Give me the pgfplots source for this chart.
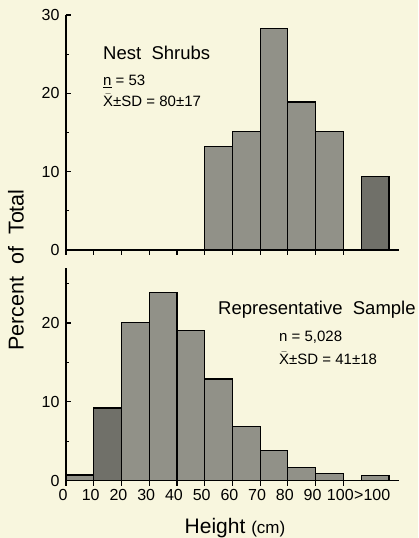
\documentclass[border=0pt]{standalone}
\usepackage{fontspec}
\setmainfont{Liberation Sans}
\usepackage{pgfplots}
\pgfplotsset{compat=1.18}
\definecolor{bg}{RGB}{248,246,222}
\definecolor{barg}{RGB}{145,145,136}
\definecolor{bard}{RGB}{112,112,105}
\pgfplotsset{myax/.style={
  scale only axis, width=332.8pt, xmin=0, xmax=120, ymin=0,
  axis x line=bottom, axis y line=left,
  axis line style={-, line width=1.7pt},
  tick align=inside, major tick length=5pt, minor tick length=3pt,
  every tick/.style={black, line width=1.2pt},
  xtick={0,10,...,100}, xtick style={yshift=-5pt},
  minor ytick={5,15,25},
  ticklabel style={font=\fontsize{16}{19}\selectfont},
  xticklabel style={xshift=-3pt, yshift=-5pt},
  yticklabel style={xshift=-3pt},
  /pgf/number format/assume math mode=true,
  clip=false,
}}
\begin{document}
\begin{tikzpicture}[x=1pt,y=1pt]
\useasboundingbox (0,0) rectangle (418,538);
\fill[bg] (0,0) rectangle (418,538);
\coordinate (topO) at (66,288);
\coordinate (botO) at (66,57.5);
% top panel
\begin{axis}[myax, at={(topO)}, anchor=south west, height=235pt, ymax=30,
  ytick={0,10,20,30}, xticklabels={}]
\addplot[ybar interval, fill=barg, draw=black, line width=1.2pt] coordinates
  {(50,13.2) (60,15.1) (70,28.3) (80,18.9) (90,15.1) (100,15.1)};
\addplot[ybar interval, fill=bard, draw=black, line width=1.2pt] coordinates
  {(106.5,9.4) (116.5,9.4)};
\end{axis}
% bottom panel
\begin{axis}[myax, at={(botO)}, anchor=south west, height=212.5pt, ymax=27,
  ytick={0,10,20},
  extra x ticks={111.5}, extra x tick labels={>100},
  extra x tick style={tick style={draw=none}}]
\addplot[ybar interval, fill=barg, draw=black, line width=1.2pt] coordinates
  {(0,0.7) (10,9.2) (20,20.1) (30,23.9) (40,19.1) (50,12.9) (60,6.9) (70,3.8) (80,1.7) (90,0.9) (100,0.9)};
\addplot[ybar interval, fill=bard, draw=black, line width=1.2pt] coordinates
  {(10,9.2) (20,9.2)};
\addplot[ybar interval, fill=barg, draw=black, line width=1.2pt] coordinates
  {(106.5,0.6) (116.5,0.6)};
\end{axis}
% texts
\node[anchor=base west, inner sep=0pt, font=\fontsize{18.5}{22}\selectfont] at (103,478) {Nest\ \ Shrubs};
\node[anchor=base west, inner sep=0pt, font=\fontsize{15}{18}\selectfont] at (103,452) {\underline{n} = 53};
\node[anchor=base west, inner sep=0pt, font=\fontsize{15}{18}\selectfont] at (103,431) {$\bar{\mbox{X}}$±SD = 80±17};
\node[anchor=base west, inner sep=0pt, font=\fontsize{18.5}{22}\selectfont] at (218,223) {Representative\ \ Sample};
\node[anchor=base west, inner sep=0pt, font=\fontsize{15}{18}\selectfont] at (279,196) {n = 5,028};
\node[anchor=base west, inner sep=0pt, font=\fontsize{15}{18}\selectfont] at (279,173) {$\bar{\mbox{X}}$±SD = 41±18};
\node[rotate=90, inner sep=0pt, font=\fontsize{21.5}{24}\selectfont] at (16,268) {Percent\ \ of\ \ Total};
\node[anchor=base, inner sep=0pt] at (235,5) {\fontsize{21}{24}\selectfont Height \fontsize{17}{20}\selectfont(cm)};
\end{tikzpicture}
\end{document}
